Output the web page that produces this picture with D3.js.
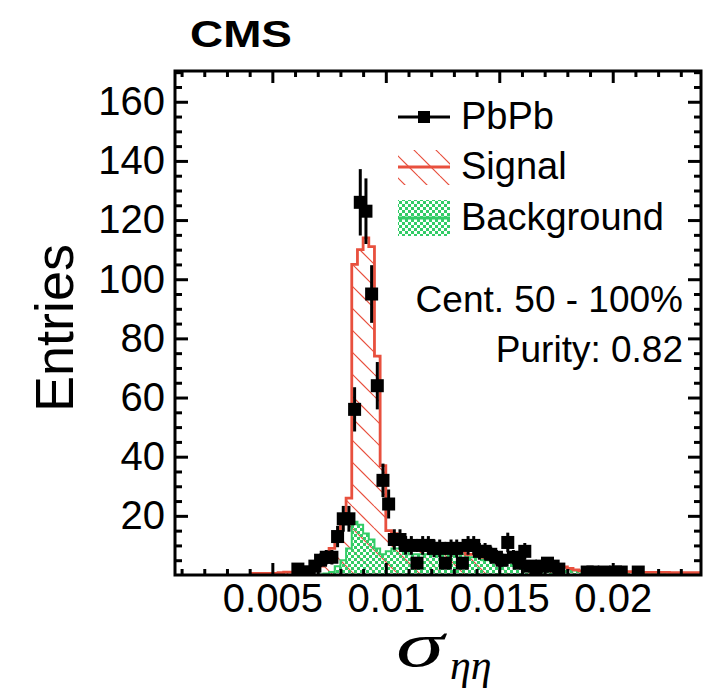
<!DOCTYPE html>
<html>
<head>
<meta charset="utf-8">
<script src="https://cdn.jsdelivr.net/npm/d3@7"></script>
<style>
  html, body { margin: 0; padding: 0; background: #fff; }
  svg { display: block; }
  text { font-family: "Liberation Sans", Arial, Helvetica, sans-serif; fill: #000; }
</style>
</head>
<body>
<svg id="chart" width="704" height="689"></svg>
<script>
// Histogram binning of the sigma_ietaieta distribution
const binLow = 0.004;
const binWidth = 0.00025;

// Fitted signal template (stacked on top of the background)
const signalCounts = [
  0.5, 0.5, 0.5, 0.5, 0.5, 0.8, 1, 1, 1, 1.5,
  2, 2.5, 2.8, 4.5, 8, 9, 13, 17, 87, 93,
  100, 99, 65, 30, 7, 5, 3, 3, 3, 3,
  2, 2, 2, 2, 1, 1, 1, 1, 1, 1,
  1, 1, 1, 0.5, 0.5, 0.5, 0.3, 0.3, 0.3, 0.2,
  0.2, 0.2, 0.2, 0.2, 0.2, 0.2, 0.2, 0.2, 0.2, 0.2,
  0.1, 0.1, 0.1, 0.1, 0.1, 0.1, 0.1, 0.1, 0.1, 0.1,
  0.1, 0.1, 0.1, 0.1, 0.1, 0.1, 0.1, 0.1, 0.1, 0.1
];

// Fitted background template
const backgroundCounts = [
  0, 0, 0, 0, 0, 0, 0, 0, 0, 0,
  0, 0, 0.2, 0.5, 1, 3, 5, 9, 18, 17,
  14, 12, 9, 7, 8, 9, 9, 8, 7, 7,
  7, 7, 7, 7, 7, 7, 7, 7, 6, 6,
  6, 5, 5, 5, 5, 4.5, 5, 4, 3, 3,
  3, 3, 3, 2.5, 2.5, 2.5, 2, 1.5, 1.2, 1,
  1, 1, 1, 1, 1, 1, 1, 1, 1, 0.8,
  0.8, 0.8, 0.8, 0.8, 0.7, 0.7, 0.7, 0.7, 0.7, 0.7
];

// PbPb data: bin index and entries
const dataBins = [8, 9, 10, 11, 12, 13, 14, 15, 16, 17,
  18, 19, 20, 21, 22, 23, 24, 25, 26, 27,
  28, 29, 30, 31, 32, 33, 34, 35, 36, 37,
  38, 39, 40, 41, 42, 43, 44, 45, 46, 47,
  48, 49, 50, 51, 52, 53, 54, 59, 60, 62,
  64, 65, 68];
const dataCounts = [2, 1, 1, 3, 5, 6, 6, 13, 19, 19,
  56, 126, 123, 95, 64, 32, 24, 12, 12, 10,
  10, 4, 10, 10, 9, 9, 4, 9, 9, 4,
  10, 10, 8, 8, 7, 6, 5, 11, 6, 4,
  8, 3, 2, 3, 4, 3, 2, 1, 1, 1,
  1, 1, 1];

const xTicks = [0.005, 0.01, 0.015, 0.02];
const xTickLabels = ["0.005", "0.01", "0.015", "0.02"];
const yTicks = [20, 40, 60, 80, 100, 120, 140, 160];

const legendLabels = ["PbPb", "Signal", "Background"];
const infoLines = ["Cent. 50 - 100%", "Purity: 0.82"];

const red = "#e8503e";
const green = "#33cc66";

const svg = d3.select("#chart");
const frame = { left: 175, right: 701, top: 71, bottom: 575 };

const x = d3.scaleLinear().domain([0.00071, 0.02389]).range([frame.left, frame.right]);
const y = d3.scaleLinear().domain([0, 170.4]).range([frame.bottom, frame.top]);

// fill patterns
const defs = svg.append("defs");
const hatch = defs.append("pattern")
  .attr("id", "hatch").attr("patternUnits", "userSpaceOnUse")
  .attr("width", 22).attr("height", 22);
hatch.append("path").attr("d", "M0,0 L22,22 M-11,11 L0,22 M11,-11 L22,0 M-11,-11 L11,11 M11,11 L33,33")
  .attr("stroke", red).attr("stroke-width", 1.1).attr("fill", "none");

const checker = defs.append("pattern")
  .attr("id", "checker").attr("patternUnits", "userSpaceOnUse")
  .attr("width", 6).attr("height", 6);
checker.append("rect").attr("x", 0).attr("y", 0).attr("width", 3).attr("height", 3).attr("fill", green);
checker.append("rect").attr("x", 3).attr("y", 3).attr("width", 3).attr("height", 3).attr("fill", green);

defs.append("clipPath").attr("id", "plotClip")
  .append("rect").attr("x", frame.left).attr("y", frame.top)
  .attr("width", frame.right - frame.left).attr("height", frame.bottom - frame.top);

const plot = svg.append("g").attr("clip-path", "url(#plotClip)");

// step outline of a binned histogram
function stepPoints(counts) {
  const pts = [[binLow, 0]];
  counts.forEach((c, i) => {
    const lo = binLow + i * binWidth;
    pts.push([lo, c], [lo + binWidth, c]);
  });
  pts.push([binLow + counts.length * binWidth, 0]);
  return pts;
}
const line = d3.line().x(d => x(d[0])).y(d => y(d[1]));

const stacked = signalCounts.map((s, i) => s + backgroundCounts[i]);
const sigPts = stepPoints(stacked);
const bkgPts = stepPoints(backgroundCounts);

plot.append("path").attr("d", line(sigPts) + "Z").attr("fill", "url(#hatch)").attr("stroke", "none");
plot.append("path").attr("d", line(bkgPts) + "Z").attr("fill", "url(#checker)").attr("stroke", "none");
plot.append("path").attr("d", line(bkgPts.slice(1, -1))).attr("fill", "none")
  .attr("stroke", green).attr("stroke-width", 2);
plot.append("path").attr("d", line(sigPts.slice(1, -1))).attr("fill", "none")
  .attr("stroke", red).attr("stroke-width", 2.8);

// data points with statistical errors
const data = dataBins.map((b, i) => ({ xc: binLow + (b + 0.5) * binWidth, n: dataCounts[i] }));
const pts = plot.append("g");
pts.selectAll("line.err").data(data).join("line")
  .attr("x1", d => x(d.xc)).attr("x2", d => x(d.xc))
  .attr("y1", d => y(d.n + Math.sqrt(d.n))).attr("y2", d => y(Math.max(0, d.n - Math.sqrt(d.n))))
  .attr("stroke", "#000").attr("stroke-width", 3);
const ms = 13;
pts.selectAll("rect.mk").data(data).join("rect")
  .attr("x", d => x(d.xc) - ms / 2).attr("y", d => y(d.n) - ms / 2)
  .attr("width", ms).attr("height", ms).attr("fill", "#000");

// axes with inward ticks on all four sides
function minorRange(a, b, step) {
  const out = [];
  for (let v = a; v <= b + 1e-12; v += step) out.push(+v.toFixed(6));
  return out;
}
const xMinor = minorRange(0.001, 0.023, 0.001).filter(v => !xTicks.some(t => Math.abs(t - v) < 1e-9));
const yMinor = minorRange(5, 170, 5).filter(v => v % 20 !== 0);

function styleAxis(g) {
  g.select(".domain").remove();
  g.selectAll(".tick line").attr("stroke", "#000").attr("stroke-width", 3);
}
const fs = 40;
svg.append("g").attr("transform", `translate(0,${frame.bottom})`)
  .call(d3.axisBottom(x).tickValues(xTicks).tickSize(-12).tickFormat((d, i) => xTickLabels[i]).tickPadding(9))
  .call(styleAxis)
  .call(g => g.selectAll(".tick text").attr("font-size", fs).attr("fill", "#000"));
svg.append("g").attr("transform", `translate(0,${frame.bottom})`)
  .call(d3.axisBottom(x).tickValues(xMinor).tickSize(-6).tickFormat(""))
  .call(styleAxis);
svg.append("g").attr("transform", `translate(0,${frame.top})`)
  .call(d3.axisTop(x).tickValues(xTicks).tickSize(-12).tickFormat(""))
  .call(styleAxis);
svg.append("g").attr("transform", `translate(0,${frame.top})`)
  .call(d3.axisTop(x).tickValues(xMinor).tickSize(-6).tickFormat(""))
  .call(styleAxis);
svg.append("g").attr("transform", `translate(${frame.left},0)`)
  .call(d3.axisLeft(y).tickValues(yTicks).tickSize(-13).tickPadding(10))
  .call(styleAxis)
  .call(g => g.selectAll(".tick text").attr("font-size", fs).attr("fill", "#000"));
svg.append("g").attr("transform", `translate(${frame.left},0)`)
  .call(d3.axisLeft(y).tickValues(yMinor).tickSize(-7).tickFormat(""))
  .call(styleAxis);
svg.append("g").attr("transform", `translate(${frame.right},0)`)
  .call(d3.axisRight(y).tickValues(yTicks).tickSize(-13).tickFormat(""))
  .call(styleAxis);
svg.append("g").attr("transform", `translate(${frame.right},0)`)
  .call(d3.axisRight(y).tickValues(yMinor).tickSize(-7).tickFormat(""))
  .call(styleAxis);

svg.append("rect").attr("x", frame.left).attr("y", frame.top)
  .attr("width", frame.right - frame.left).attr("height", frame.bottom - frame.top)
  .attr("fill", "none").attr("stroke", "#000").attr("stroke-width", 3);

// titles
svg.append("text").attr("x", 190).attr("y", 47).attr("font-size", 37).attr("font-weight", "bold")
  .attr("textLength", 102).attr("lengthAdjust", "spacingAndGlyphs").text("CMS");
svg.append("text").attr("transform", "translate(73,328) rotate(-90)").attr("text-anchor", "middle")
  .attr("font-size", 54).text("Entries");
const serif = "'Liberation Serif', 'Times New Roman', serif";
svg.append("text").attr("x", 396).attr("y", 666)
  .style("font-family", serif).attr("font-style", "italic").attr("font-size", 64)
  .attr("textLength", 48).attr("lengthAdjust", "spacingAndGlyphs").text("σ");
svg.append("text").attr("x", 450).attr("y", 679)
  .style("font-family", serif).attr("font-style", "italic").attr("font-size", 42).text("ηη");

// legend
const lg = svg.append("g");
const lx0 = 398, lx1 = 450, ltx = 461;
const rowY = [117, 167, 218];
lg.append("line").attr("x1", lx0).attr("x2", lx1).attr("y1", rowY[0]).attr("y2", rowY[0])
  .attr("stroke", "#000").attr("stroke-width", 3);
lg.append("rect").attr("x", 424 - 6).attr("y", rowY[0] - 6).attr("width", 12).attr("height", 12).attr("fill", "#000");
lg.append("rect").attr("x", lx0).attr("y", 150).attr("width", lx1 - lx0).attr("height", 35).attr("fill", "url(#hatch)");
lg.append("line").attr("x1", lx0).attr("x2", lx1).attr("y1", rowY[1]).attr("y2", rowY[1])
  .attr("stroke", red).attr("stroke-width", 3);
lg.append("rect").attr("x", lx0).attr("y", 200).attr("width", lx1 - lx0).attr("height", 36).attr("fill", "url(#checker)");
lg.append("line").attr("x1", lx0).attr("x2", lx1).attr("y1", rowY[2]).attr("y2", rowY[2])
  .attr("stroke", green).attr("stroke-width", 3);
legendLabels.forEach((t, i) => {
  lg.append("text").attr("x", ltx).attr("y", rowY[i] + 12).attr("font-size", 38).text(t);
});

// centrality and purity annotation
infoLines.forEach((t, i) => {
  svg.append("text").attr("x", 683).attr("y", 312 + i * 50).attr("text-anchor", "end")
    .attr("font-size", 37).text(t);
});
</script>
</body>
</html>
